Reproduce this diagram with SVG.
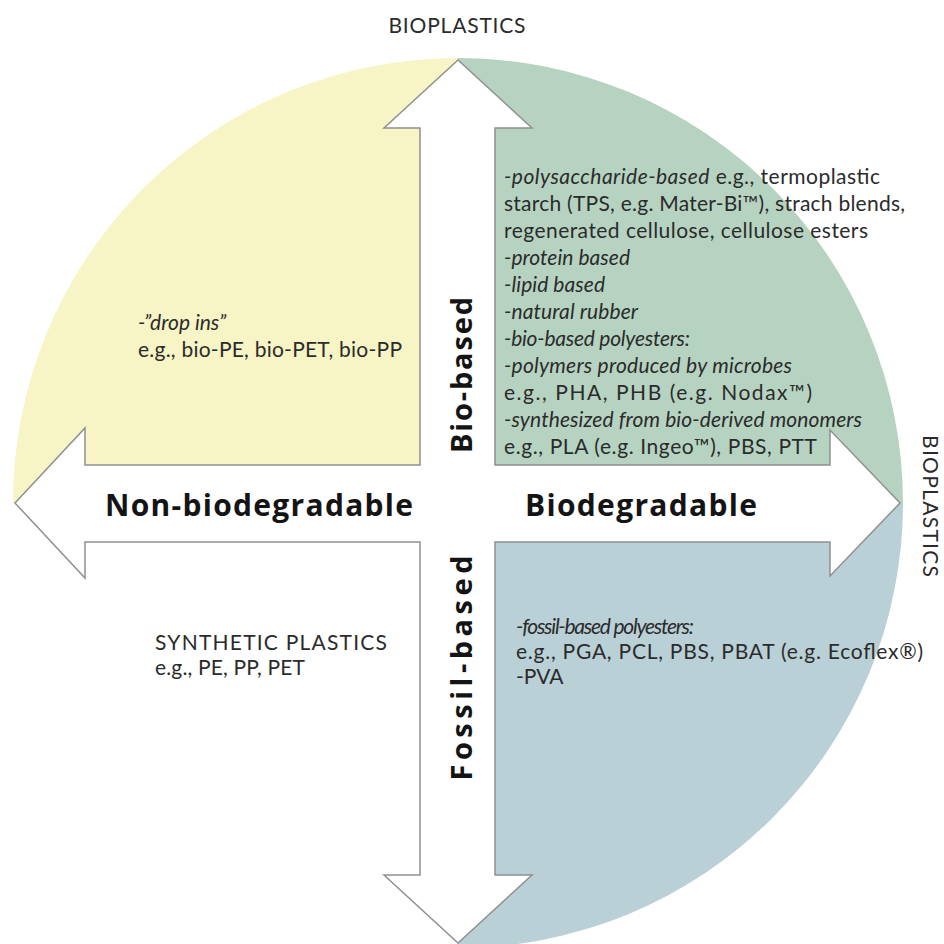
<svg xmlns="http://www.w3.org/2000/svg" width="944" height="944" viewBox="0 0 944 944">
<style>
.t{font-family:Lato,"Liberation Sans",sans-serif;font-size:21px;fill:#2b2b2b}
.i{font-style:italic}
.b{font-family:"Open Sans","Liberation Sans",sans-serif;font-weight:bold;fill:#141414}
.cap{font-family:Lato,"Liberation Sans",sans-serif;font-size:21px;fill:#2b2b2b}
</style>
<rect width="944" height="944" fill="#ffffff"/>
<g id="quadrants">
<path id="q-yellow" d="M458,503 L458,58 A445,445 0 0 0 13,503 Z" fill="#f7f4c6"/>
<path id="q-green" d="M458,503 L903,503 A445,445 0 0 0 458,58 Z" fill="#b6d3c1"/>
<path id="q-blue" d="M458,503 L458,948 A445,445 0 0 0 903,503 Z" fill="#b9d0d7"/>
</g>
<g id="connectors">
<path id="cross-arrows" d="M458,60 L532,128 L495,128 L495,465 L830,465 L830,430 L900,503 L830,576 L830,542 L495,542 L495,875 L532,875 L458,943 L384,875 L420,875 L420,542 L85,542 L85,578 L15,503 L85,428 L85,465 L420,465 L420,128 L384,128 Z" fill="#ffffff" stroke="#909090" stroke-width="1.5" stroke-linejoin="miter"/>
</g>
<g id="label-top">
<text class="cap" x="457" y="33" text-anchor="middle" textLength="137">BIOPLASTICS</text>
</g>
<g id="label-right">
<text class="cap" transform="translate(923,506) rotate(90)" text-anchor="middle" textLength="142">BIOPLASTICS</text>
</g>
<g id="label-bio-based">
<text class="b" font-size="29" transform="translate(472,375) rotate(-90)" text-anchor="middle" textLength="156">Bio-based</text>
</g>
<g id="label-fossil-based">
<text class="b" font-size="29" transform="translate(472,668) rotate(-90)" text-anchor="middle" textLength="225">Fossil-based</text>
</g>
<g id="label-non-biodegradable">
<text class="b" font-size="30" x="105" y="516" textLength="308">Non-biodegradable</text>
</g>
<g id="label-biodegradable">
<text class="b" font-size="30" x="525" y="516" textLength="232">Biodegradable</text>
</g>
<g id="node-biobased-nonbiodegradable">
<text class="t i" x="138" y="330">-”drop ins”</text>
<text class="t" x="138" y="357" textLength="264">e.g., bio-PE, bio-PET, bio-PP</text>
</g>
<g id="node-biobased-biodegradable">
<text class="t" x="504" y="184" textLength="376"><tspan class="i">-polysaccharide-based</tspan> e.g., termoplastic</text>
<text class="t" x="504" y="211" textLength="401">starch (TPS, e.g. Mater-Bi™), strach blends,</text>
<text class="t" x="504" y="238" textLength="364">regenerated cellulose, cellulose esters</text>
<text class="t i" x="504" y="265" textLength="126">-protein based</text>
<text class="t i" x="504" y="292" textLength="101">-lipid based</text>
<text class="t i" x="504" y="319" textLength="134">-natural rubber</text>
<text class="t i" x="504" y="346" font-size="20" textLength="186">-bio-based polyesters:</text>
<text class="t i" x="504" y="373" textLength="288">-polymers produced by microbes</text>
<text class="t" x="504" y="400" textLength="308">e.g., PHA, PHB (e.g. Nodax™)</text>
<text class="t i" x="504" y="427" textLength="358">-synthesized from bio-derived monomers</text>
<text class="t" x="504" y="454" textLength="313">e.g., PLA (e.g. Ingeo™), PBS, PTT</text>
</g>
<g id="node-fossil-nonbiodegradable">
<text class="t" x="155" y="650" font-size="22" textLength="232">SYNTHETIC PLASTICS</text>
<text class="t" x="155" y="675" textLength="150">e.g., PE, PP, PET</text>
</g>
<g id="node-fossil-biodegradable">
<text class="t i" x="516" y="634" font-size="19.5" textLength="178">-fossil-based polyesters:</text>
<text class="t" x="516" y="659" textLength="407">e.g., PGA, PCL, PBS, PBAT (e.g. Ecoflex®)</text>
<text class="t" x="516" y="684">-PVA</text>
</g>
</svg>
